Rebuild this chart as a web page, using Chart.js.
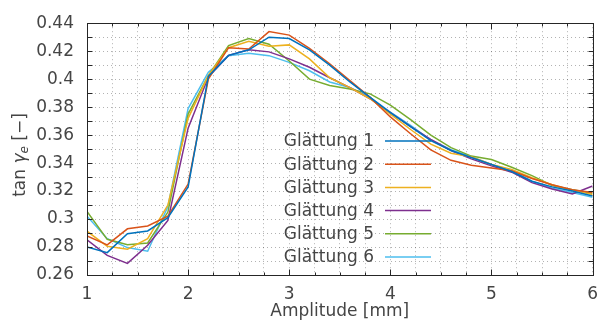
<!DOCTYPE html>
<html>
<head>
<meta charset="utf-8">
<script src="https://cdn.jsdelivr.net/npm/chart.js@4/dist/chart.umd.min.js"></script>
<style>
  body { margin: 0; background: #fff; }
  canvas { display: block; }
</style>
</head>
<body>
<canvas id="chart" width="607" height="330"></canvas>
<script>
// amplitude steps (mm)
const amplitude = [1, 1.2, 1.4, 1.6, 1.8, 2, 2.2, 2.4, 2.6, 2.8, 3, 3.2, 3.4, 3.6, 3.8, 4, 4.2, 4.4, 4.6, 4.8, 5, 5.2, 5.4, 5.6, 5.8, 6];

// tan gamma_e for each smoothing setting
const glaettung1 = [0.280, 0.276, 0.2895, 0.2915, 0.301, 0.323, 0.402, 0.417, 0.421, 0.430, 0.429, 0.421, 0.410, 0.398, 0.387, 0.376, 0.366, 0.356, 0.349, 0.344, 0.339, 0.334, 0.327, 0.323, 0.320, 0.3165];
const glaettung2 = [0.288, 0.2815, 0.293, 0.295, 0.302, 0.325, 0.400, 0.4225, 0.4215, 0.434, 0.4315, 0.422, 0.411, 0.399, 0.387, 0.373, 0.361, 0.3495, 0.342, 0.3385, 0.3365, 0.3345, 0.329, 0.3245, 0.321, 0.319];
const glaettung3 = [0.2913, 0.2805, 0.2785, 0.286, 0.310, 0.372, 0.4025, 0.4225, 0.427, 0.4235, 0.4245, 0.4145, 0.401, 0.394, 0.386, 0.375, 0.364, 0.3535, 0.347, 0.3445, 0.339, 0.3355, 0.3295, 0.3245, 0.3205, 0.3175];
const glaettung4 = [0.2852, 0.274, 0.2683, 0.2812, 0.299, 0.365, 0.4015, 0.417, 0.421, 0.4195, 0.4145, 0.4085, 0.401, 0.394, 0.386, 0.376, 0.366, 0.357, 0.349, 0.343, 0.338, 0.3335, 0.326, 0.3215, 0.318, 0.3236];
const glaettung5 = [0.3055, 0.2855, 0.2817, 0.2829, 0.305, 0.375, 0.4025, 0.424, 0.429, 0.425, 0.413, 0.400, 0.3955, 0.393, 0.3895, 0.3815, 0.371, 0.360, 0.351, 0.345, 0.3425, 0.337, 0.331, 0.324, 0.321, 0.3185];
const glaettung6 = [0.302, 0.286, 0.2796, 0.277, 0.309, 0.379, 0.405, 0.4168, 0.4186, 0.4168, 0.412, 0.406, 0.398, 0.394, 0.387, 0.3765, 0.367, 0.3565, 0.3495, 0.3445, 0.339, 0.3345, 0.327, 0.322, 0.319, 0.3155];

const seriesNames = ['Glättung 1', 'Glättung 2', 'Glättung 3', 'Glättung 4', 'Glättung 5', 'Glättung 6'];
const seriesColors = ['#0072BD', '#D95319', '#EDB120', '#7E2F8E', '#77AC30', '#4DBEEE'];

const xTickLabels = ['1', '2', '3', '4', '5', '6'];
const yTickLabels = ['0.26', '0.28', '0.3', '0.32', '0.34', '0.36', '0.38', '0.4', '0.42', '0.44'];

const allSeries = [glaettung1, glaettung2, glaettung3, glaettung4, glaettung5, glaettung6];

const FONT = "'DejaVu Sans', sans-serif";
const TEXT_COLOR = '#454545';

// frame, inward tick marks, axis titles and the legend inside the plot
const decorations = {
    id: 'decorations',
    afterDraw(chart) {
        const ctx = chart.ctx;
        const area = chart.chartArea;
        const xs = chart.scales.x;
        const ys = chart.scales.y;
        const L = Math.round(area.left) + 0.5, R = Math.round(area.right) + 0.5;
        const T = Math.round(area.top) + 0.5, B = Math.round(area.bottom) + 0.5;

        ctx.save();
        ctx.strokeStyle = '#262626';
        ctx.lineWidth = 1;
        ctx.beginPath();
        xs.ticks.forEach(t => {
            const px = Math.round(xs.getPixelForValue(t.value)) + 0.5;
            const len = Number.isInteger(Math.round(t.value * 1000) / 1000) ? 6 : 3;
            ctx.moveTo(px, B); ctx.lineTo(px, B - len);
            ctx.moveTo(px, T); ctx.lineTo(px, T + len);
        });
        ys.ticks.forEach(t => {
            const py = Math.round(ys.getPixelForValue(t.value)) + 0.5;
            ctx.moveTo(L, py); ctx.lineTo(L + 5, py);
            ctx.moveTo(R, py); ctx.lineTo(R - 5, py);
        });
        ctx.stroke();
        ctx.strokeRect(L, T, R - L, B - T);

        // x title
        ctx.fillStyle = TEXT_COLOR;
        ctx.font = '17px ' + FONT;
        ctx.textAlign = 'center';
        ctx.textBaseline = 'middle';
        ctx.fillText('Amplitude [mm]', (area.left + area.right) / 2, 312);

        // y title: tan γ_e [−]
        ctx.save();
        ctx.translate(21, 155);
        ctx.rotate(-Math.PI / 2);
        const parts = [
            { t: 'tan ', f: '17px ' + FONT, dy: 0 },
            { t: 'γ', f: 'italic 17px ' + FONT, dy: 0 },
            { t: 'e', f: 'italic 12px ' + FONT, dy: 4 },
            { t: ' [−]', f: '17px ' + FONT, dy: 0 }
        ];
        let total = 0;
        parts.forEach(p => { ctx.font = p.f; p.w = ctx.measureText(p.t).width; total += p.w; });
        let cx = -total / 2;
        ctx.textAlign = 'left';
        parts.forEach(p => { ctx.font = p.f; ctx.fillText(p.t, cx, p.dy); cx += p.w; });
        ctx.restore();

        // legend
        ctx.font = '17px ' + FONT;
        ctx.textAlign = 'right';
        ctx.textBaseline = 'middle';
        chart.data.datasets.forEach((ds, i) => {
            const y = 141 + i * 23.2;
            ctx.fillStyle = TEXT_COLOR;
            ctx.fillText(ds.label, 374, y + 1);
            ctx.strokeStyle = ds.borderColor;
            ctx.lineWidth = 1.5;
            ctx.beginPath();
            ctx.moveTo(385, y); ctx.lineTo(431, y);
            ctx.stroke();
        });
        ctx.restore();
    }
};

new Chart(document.getElementById('chart'), {
    type: 'line',
    data: {
        datasets: allSeries.map((vals, i) => ({
            label: seriesNames[i],
            data: amplitude.map((a, j) => ({ x: a, y: vals[j] })),
            borderColor: seriesColors[i],
            backgroundColor: seriesColors[i],
            borderWidth: 1.5,
            pointRadius: 0,
            tension: 0,
            fill: false
        }))
    },
    options: {
        responsive: false,
        animation: false,
        layout: { padding: { top: 20, right: 6, left: 0, bottom: 0 } },
        plugins: { legend: { display: false }, tooltip: { enabled: false } },
        scales: {
            x: {
                type: 'linear',
                min: 1,
                max: 6,
                afterFit: s => { s.height = 55; },
                grid: { color: 'rgba(0,0,0,0.3)', drawTicks: false },
                border: { display: false, dash: [1, 3] },
                ticks: {
                    stepSize: 0.25,
                    autoSkip: false,
                    maxRotation: 0,
                    padding: 9,
                    color: TEXT_COLOR,
                    font: { family: FONT, size: 17 },
                    callback: v => {
                        const s = String(Math.round(v * 1000) / 1000);
                        return xTickLabels.includes(s) ? s : '';
                    }
                }
            },
            y: {
                min: 0.26,
                max: 0.44,
                afterFit: s => { s.width = 87; },
                grid: { color: 'rgba(0,0,0,0.3)', drawTicks: false },
                border: { display: false, dash: [1, 3] },
                ticks: {
                    stepSize: 0.01,
                    autoSkip: false,
                    padding: 13,
                    color: TEXT_COLOR,
                    font: { family: FONT, size: 17 },
                    callback: v => {
                        const s = String(parseFloat(v.toFixed(2)));
                        return yTickLabels.includes(s) ? s : '';
                    }
                }
            }
        }
    },
    plugins: [decorations]
});
</script>
</body>
</html>
